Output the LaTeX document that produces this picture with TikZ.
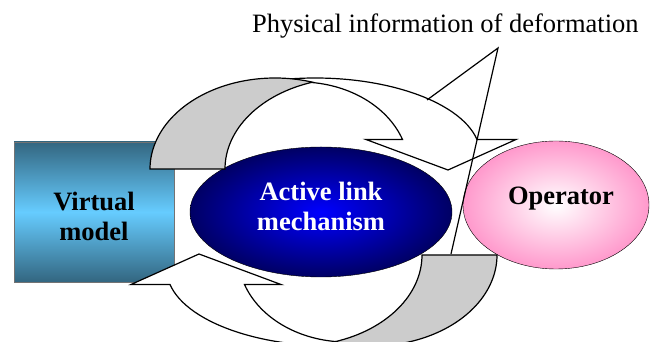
\documentclass[tikz,border=0pt]{standalone}
\usepackage{fontspec}
\setmainfont{Liberation Serif}
\usetikzlibrary{shapes.geometric}

\definecolor{boxdark}{RGB}{51,102,128}
\definecolor{boxlight}{RGB}{102,204,255}
\definecolor{linkcore}{RGB}{0,0,255}
\definecolor{linkrim}{RGB}{0,0,100}
\definecolor{oppink}{RGB}{255,153,204}
\definecolor{bandgray}{RGB}{204,204,204}

\tikzset{
  bandfront/.style={fill=white, draw=black, line width=1.2pt},
  bandback/.style={fill=bandgray, draw=black, line width=1.2pt},
  bigtext/.style={font=\fontsize{26.5}{30}\selectfont\bfseries, align=center, inner sep=0pt},
  callout/.style={draw=black, line width=1.2pt}
}

\begin{document}
\begin{tikzpicture}[x=1pt, y=1pt]
  \useasboundingbox (0,0) rectangle (659,342);
  \clip (0,0) rectangle (659,342);

  % blocks
  \node[rectangle, minimum width=160pt, minimum height=140pt, inner sep=0pt,
        draw=black!55, top color=boxdark, bottom color=boxdark, middle color=boxlight] (vbox) at (94,130) {};
  \node[ellipse, minimum width=262pt, minimum height=130pt, inner sep=0pt,
        draw=black, inner color=linkcore, outer color=linkrim] (link) at (321,130) {};
  \node[ellipse, minimum width=186pt, minimum height=128pt, inner sep=0pt,
        draw=black, inner color=white, outer color=oppink] (oper) at (556,137) {};

  % the two bent arrows, the lower one is the upper one turned round
  \foreach \ang in {0,180}{
    \begin{scope}[rotate around={\ang:(323.5,130)}]
      \draw[bandfront] (290,263.1) arc[start angle=98.7, end angle=11.6, x radius=165.4, y radius=77]
        -- (516,202.5) -- (448,172) -- (366,202.5) -- (402.5,202.5)
        arc[start angle=19.8, end angle=83.4, x radius=109, y radius=87] -- cycle;
      \draw[bandback] (150,173) arc[start angle=180, end angle=72.54, x radius=125, y radius=91]
        arc[start angle=107.46, end angle=180, x radius=125, y radius=91] -- cycle;
    \end{scope}
  }

  % labels
  \node[bigtext] (vmtext) at (94,126) {Virtual\\model};
  \node[bigtext, text=white] (linktext) at (321,136) {Active link\\mechanism};
  \node[bigtext, anchor=base] (optext) at (561,137) {Operator};
  \node[font=\fontsize{26.5}{30}\selectfont, inner sep=0pt, anchor=base west] (info) at (252,309.7)
    {Physical information of deformation};

  % callout
  \coordinate (tip) at (498,294);
  \coordinate (upper) at (427,242);
  \coordinate (lower) at (451,88);
  \draw[callout] (upper) -- (tip) -- (lower);
\end{tikzpicture}
\end{document}
